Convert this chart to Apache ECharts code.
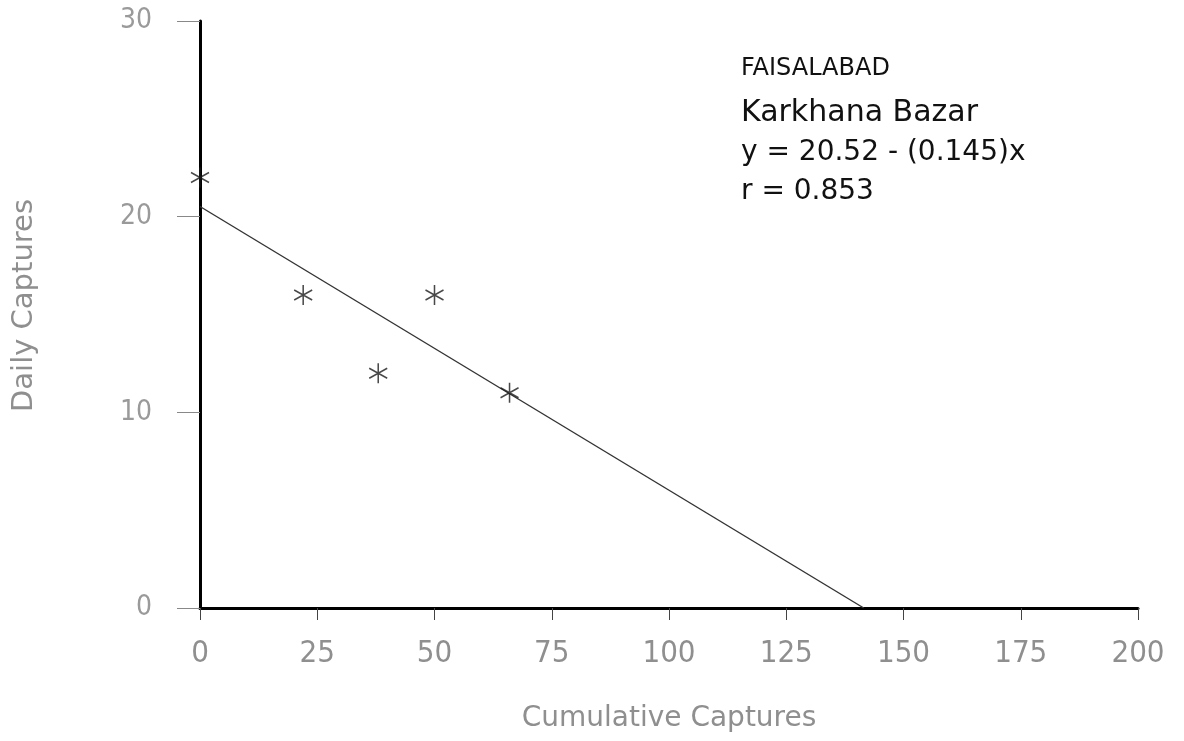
<!DOCTYPE html>
<html>
<head>
<meta charset="utf-8">
<script src="https://cdn.jsdelivr.net/npm/echarts@6/dist/echarts.min.js"></script>
<style>
  html, body { margin: 0; padding: 0; background: #fff; }
  #chart { width: 1184px; height: 741px; }
</style>
</head>
<body>
<div id="chart"></div>
<script>
// Daily captures against cumulative captures (removal sampling), Karkhana Bazar
const cumulativeCaptures = [0, 22, 38, 50, 66];
const dailyCaptures = [22, 16, 12, 16, 11];
const xTicks = [0, 25, 50, 75, 100, 125, 150, 175, 200];
const yTicks = [0, 10, 20, 30];
const fitIntercept = 20.52;
const fitSlope = -0.145;
const titleLines = ['FAISALABAD', 'Karkhana Bazar', 'y = 20.52 - (0.145)x', 'r = 0.853'];

const points = cumulativeCaptures.map((x, i) => [x, dailyCaptures[i]]);
const xZero = -fitIntercept / fitSlope;
const fitLine = [[0, fitIntercept], [xZero, 0]];

const asterisk = 'path://M0,-10L0,10M-8.66,-5L8.66,5M-8.66,5L8.66,-5';
const font = '"DejaVu Sans", "Liberation Sans", sans-serif';
const tickFont = '"Liberation Sans Narrow", "DejaVu Sans Condensed", "Liberation Sans", sans-serif';

const chart = echarts.init(document.getElementById('chart'));
chart.setOption({
  backgroundColor: '#ffffff',
  animation: false,
  grid: { left: 200, right: 46, top: 21, bottom: 133 },
  xAxis: {
    type: 'value', min: 0, max: 200, interval: 25,
    name: 'Cumulative Captures', nameLocation: 'middle', nameGap: 97,
    nameTextStyle: { fontFamily: font, fontSize: 28, color: '#8f8f8f' },
    axisLine: { show: true, lineStyle: { color: '#000', width: 3 } },
    axisTick: { show: true, length: 12, inside: false, lineStyle: { color: '#444', width: 1 } },
    axisLabel: { fontFamily: tickFont, fontSize: 31, color: '#8f8f8f', margin: 30,
      formatter: v => xTicks.includes(v) ? String(v) : '' },
    splitLine: { show: false }
  },
  yAxis: {
    type: 'value', min: 0, max: 30, interval: 10,
    name: 'Daily Captures', nameLocation: 'middle', nameGap: 161,
    nameTextStyle: { fontFamily: font, fontSize: 29, color: '#8f8f8f', padding: [0, 0, 0, 18] },
    axisLine: { show: true, lineStyle: { color: '#000', width: 3 } },
    axisTick: { show: true, length: 23, lineStyle: { color: '#888', width: 1 } },
    axisLabel: { fontFamily: tickFont, fontSize: 28, color: '#9a9a9a', margin: 48,
      formatter: v => yTicks.includes(v) ? String(v) : '' },
    splitLine: { show: false }
  },
  graphic: titleLines.map((t, i) => ({
    type: 'text', left: 741, top: [57, 98, 139, 178][i],
    style: { text: t, fontFamily: font, fontSize: [24, 30, 28, 28][i], fill: '#111' }
  })),
  series: [
    {
      type: 'line', data: fitLine, symbol: 'none',
      lineStyle: { color: '#333', width: 1.4 }, z: 2
    },
    {
      type: 'scatter', data: points, symbol: asterisk, symbolSize: [18, 20],
      itemStyle: { color: 'rgba(0,0,0,0)', borderColor: '#1a1a1a', borderWidth: 1.6 }, z: 3
    }
  ]
});
</script>
</body>
</html>
